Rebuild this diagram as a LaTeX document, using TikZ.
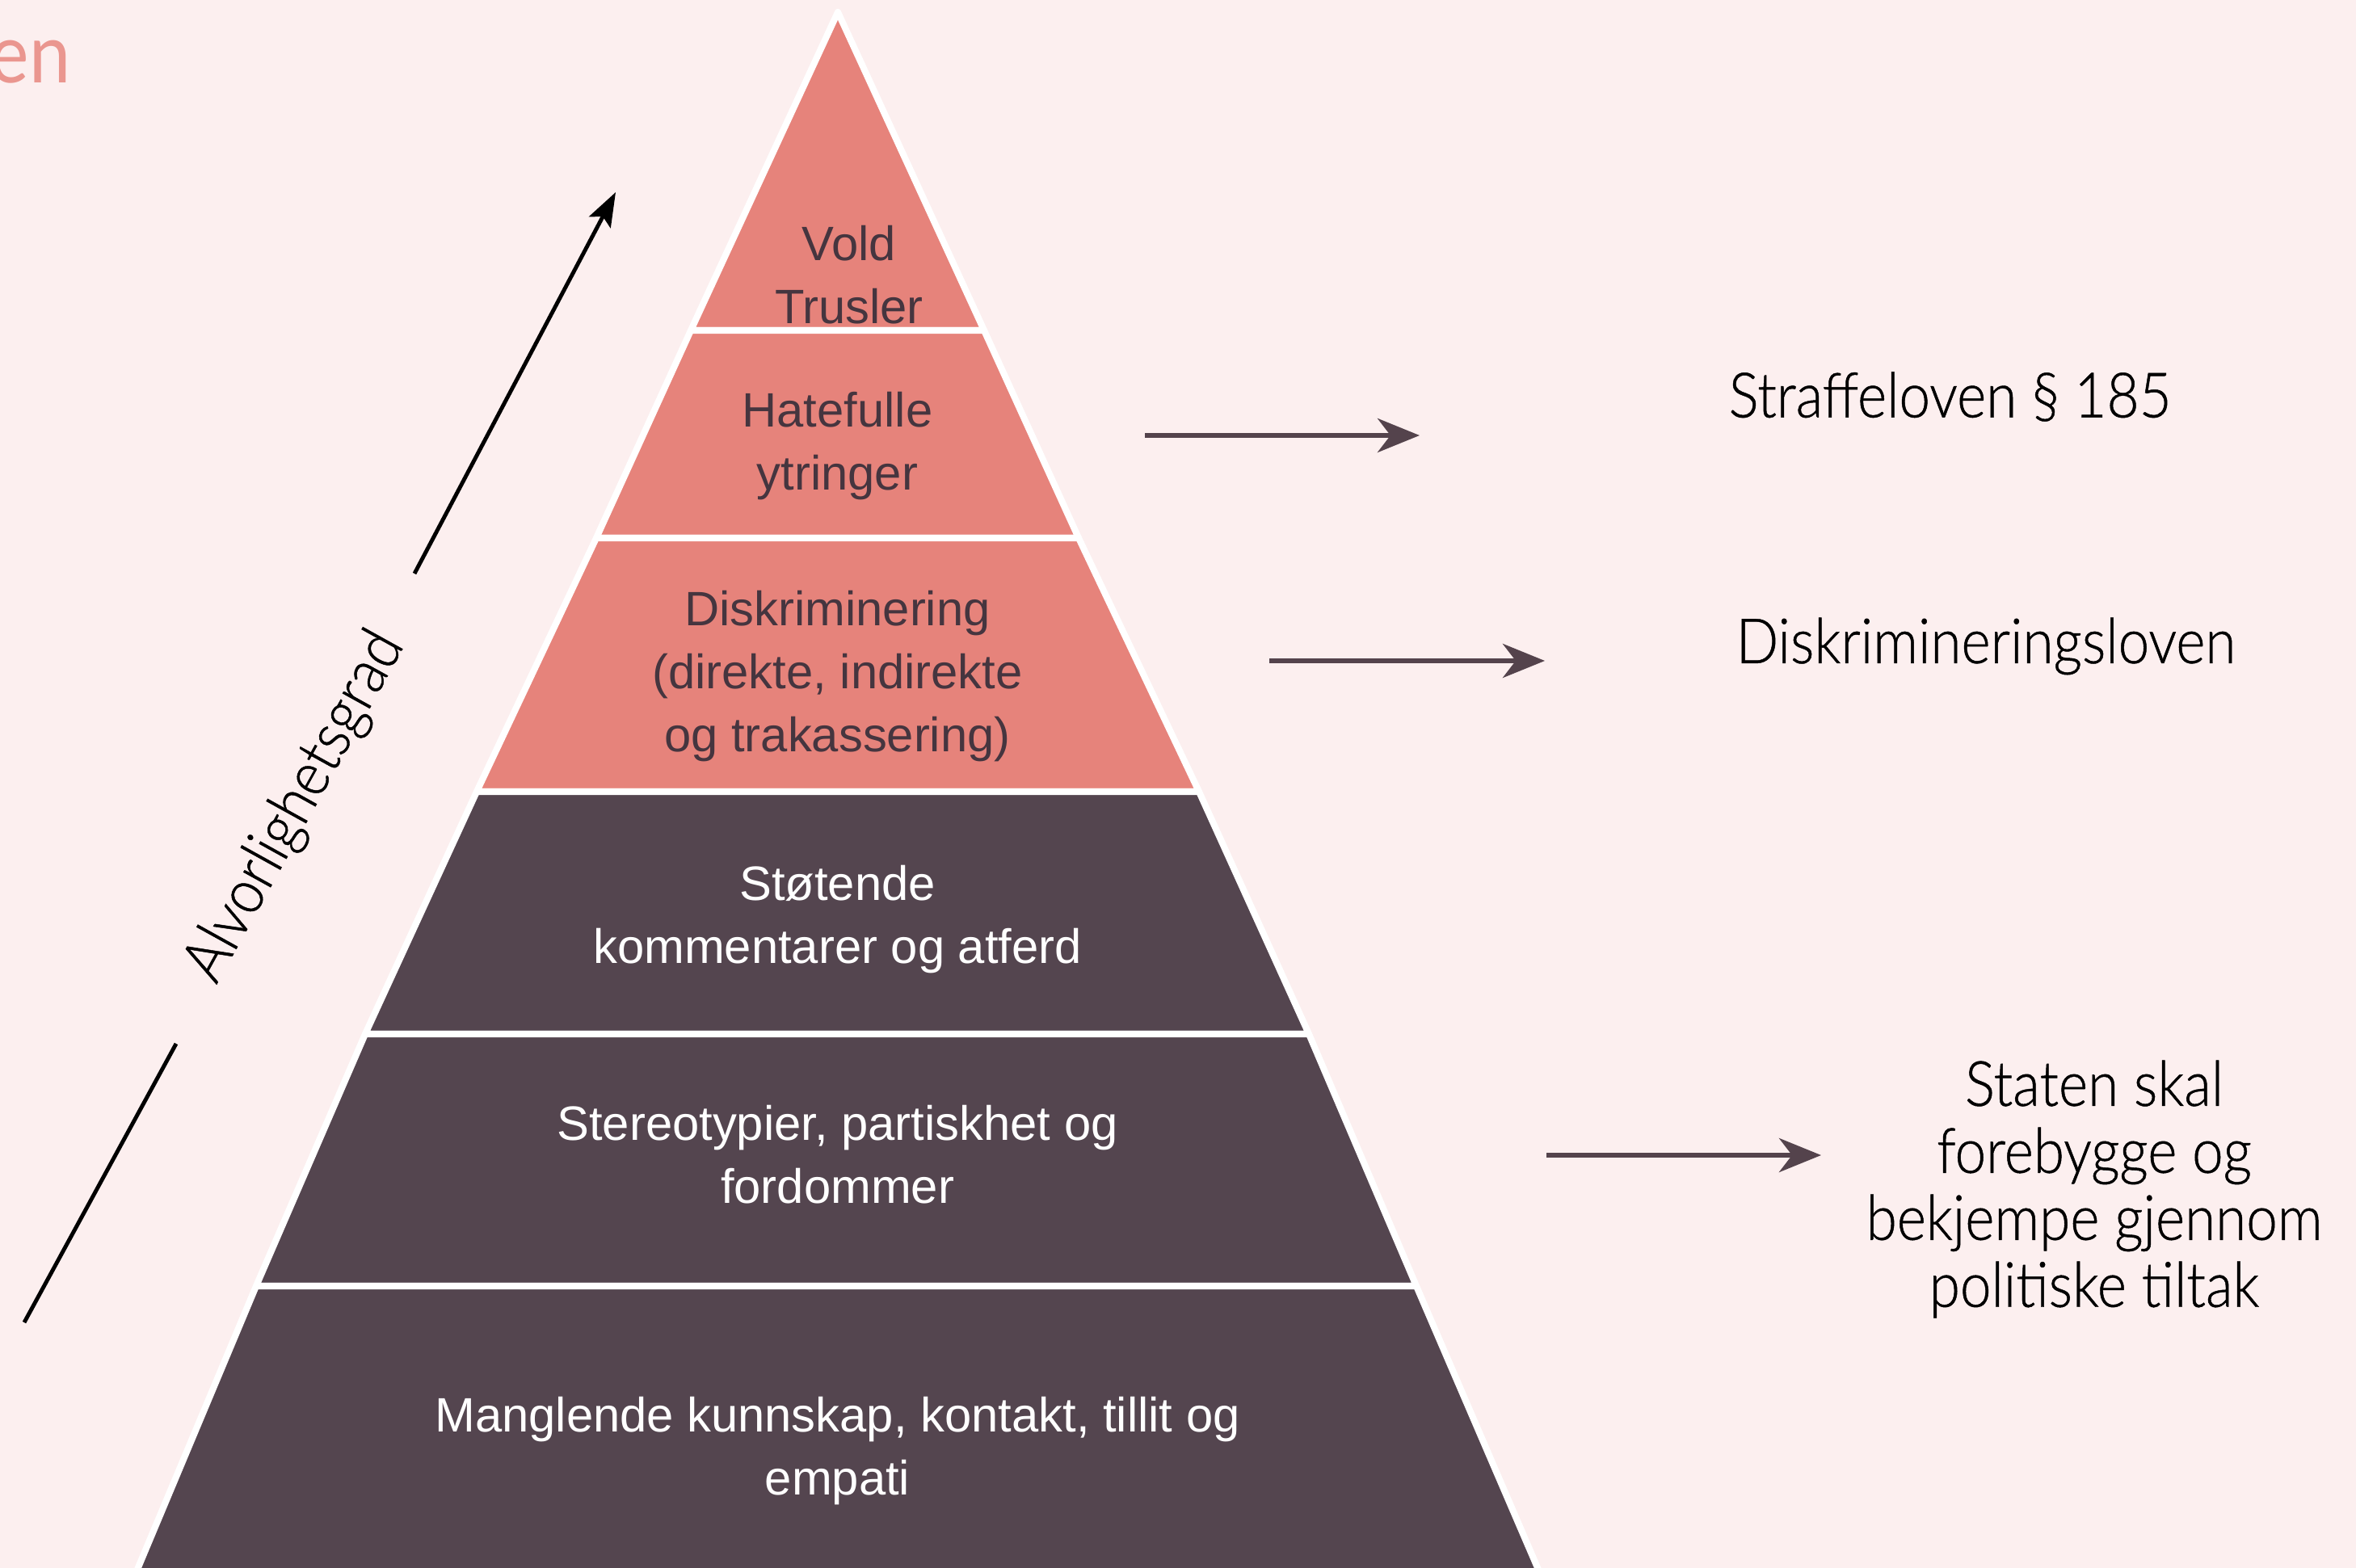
\documentclass[tikz,border=0pt]{standalone}
\usepackage{fontspec}
\setmainfont{Liberation Sans}
\newfontfamily\avfont[FakeStretch=0.895, FakeBold=0.6]{Lato Light}
\newfontfamily\titlefont[FakeStretch=0.9]{Lato}
\usetikzlibrary{arrows.meta}
\definecolor{bg}{HTML}{FCEFEF}
\definecolor{salmon}{HTML}{E6837B}
\definecolor{plum}{HTML}{54454F}
\definecolor{plumtext}{HTML}{45353F}
\definecolor{arrowcol}{HTML}{54434C}
\definecolor{titlecol}{HTML}{EA968F}
\tikzset{
  layerA/.style={fill=salmon, draw=white, line width=2.3pt, line join=round},
  layerB/.style={fill=plum, draw=white, line width=2.3pt, line join=round},
  txtA/.style={text=plumtext, font=\fontsize{17}{22.2}\selectfont, align=center, inner sep=0pt},
  txtB/.style={text=white, font=\fontsize{17}{22.2}\selectfont, align=center, inner sep=0pt},
  rtxt/.style={text=black, font=\avfont\fontsize{22}{23.6}\selectfont, align=center, inner sep=0pt},
  lawarrow/.style={draw=arrowcol, line width=1.7pt, -{Stealth[length=0.52cm, width=0.42cm, inset=0.16cm]}},
  sevline/.style={draw=black, line width=1.4pt}
}
\begin{document}
\begin{tikzpicture}
\path[fill=bg] (0,0) rectangle (29.16,-19.41);
\useasboundingbox (0,0) rectangle (29.16,-19.41);
\clip (0,0) rectangle (29.16,-19.41);
% title fragment
\node[anchor=base east, text=titlecol, font=\titlefont\fontsize{29}{30}\selectfont, inner sep=0pt] (title) at (0.88,-1.03) {en};
% pyramid corners
\coordinate (A) at (10.37,-0.15);
\coordinate (D1l) at (8.55,-4.09); \coordinate (D1r) at (12.18,-4.09);
\coordinate (D2l) at (7.38,-6.66); \coordinate (D2r) at (13.35,-6.66);
\coordinate (D3l) at (5.90,-9.80); \coordinate (D3r) at (14.84,-9.80);
\coordinate (D4l) at (4.52,-12.80); \coordinate (D4r) at (16.20,-12.80);
\coordinate (D5l) at (3.17,-15.92); \coordinate (D5r) at (17.53,-15.92);
\coordinate (Bl) at (1.67,-19.50); \coordinate (Br) at (19.07,-19.50);
% layers
\path[layerA] (A) -- (D1r) -- (D1l) -- cycle;
\path[layerA] (D1l) -- (D1r) -- (D2r) -- (D2l) -- cycle;
\path[layerA] (D2l) -- (D2r) -- (D3r) -- (D3l) -- cycle;
\path[layerB] (D3l) -- (D3r) -- (D4r) -- (D4l) -- cycle;
\path[layerB] (D4l) -- (D4r) -- (D5r) -- (D5l) -- cycle;
\path[layerB] (D5l) -- (D5r) -- (Br) -- (Bl) -- cycle;
% layer texts
\node[txtA] (t1) at (10.51,-3.40) {Vold\\Trusler};
\node[txtA] (t2) at (10.365,-5.52) {Hatefulle\\ytringer};
\node[txtA] (t3) at (10.365,-8.37) {Diskriminering\\(direkte, indirekte\\og trakassering)};
\node[txtB] (t4) at (10.365,-11.38) {Støtende\\kommentarer og atferd};
\node[txtB] (t5) at (10.365,-14.29) {Stereotypier, partiskhet og\\fordommer};
\node[txtB] (t6) at (10.365,-17.96) {Manglende kunnskap, kontakt, tillit og\\empati};
% right texts
\node[rtxt, anchor=west] (r1) at (21.39,-4.91) {Straffeloven § 185};
\node[rtxt, anchor=west] (r2) at (21.48,-8.00) {Diskrimineringsloven};
\node[rtxt] (r3) at (25.92,-14.72) {Staten skal\\forebygge og\\bekjempe gjennom\\politiske tiltak};
% law arrows
\coordinate (a1s) at (14.17,-5.39); \coordinate (a1e) at (17.57,-5.39);
\coordinate (a2s) at (15.71,-8.18); \coordinate (a2e) at (19.12,-8.18);
\coordinate (a3s) at (19.14,-14.30); \coordinate (a3e) at (22.54,-14.30);
\draw[lawarrow] (a1s) -- (a1e);
\draw[lawarrow] (a2s) -- (a2e);
\draw[lawarrow] (a3s) -- (a3e);
% severity arrow
\coordinate (s1) at (0.30,-16.37); \coordinate (s2) at (2.18,-12.92);
\coordinate (s3) at (5.13,-7.10); \coordinate (s4) at (7.62,-2.38);
\draw[sevline] (s1) -- (s2);
\draw[sevline, -{Stealth[length=0.42cm, width=0.3cm, inset=0.08cm]}] (s3) -- (s4);
\node[rtxt, rotate=61] (sev) at (3.66,-9.99) {Alvorlighetsgrad};
\end{tikzpicture}
\end{document}
